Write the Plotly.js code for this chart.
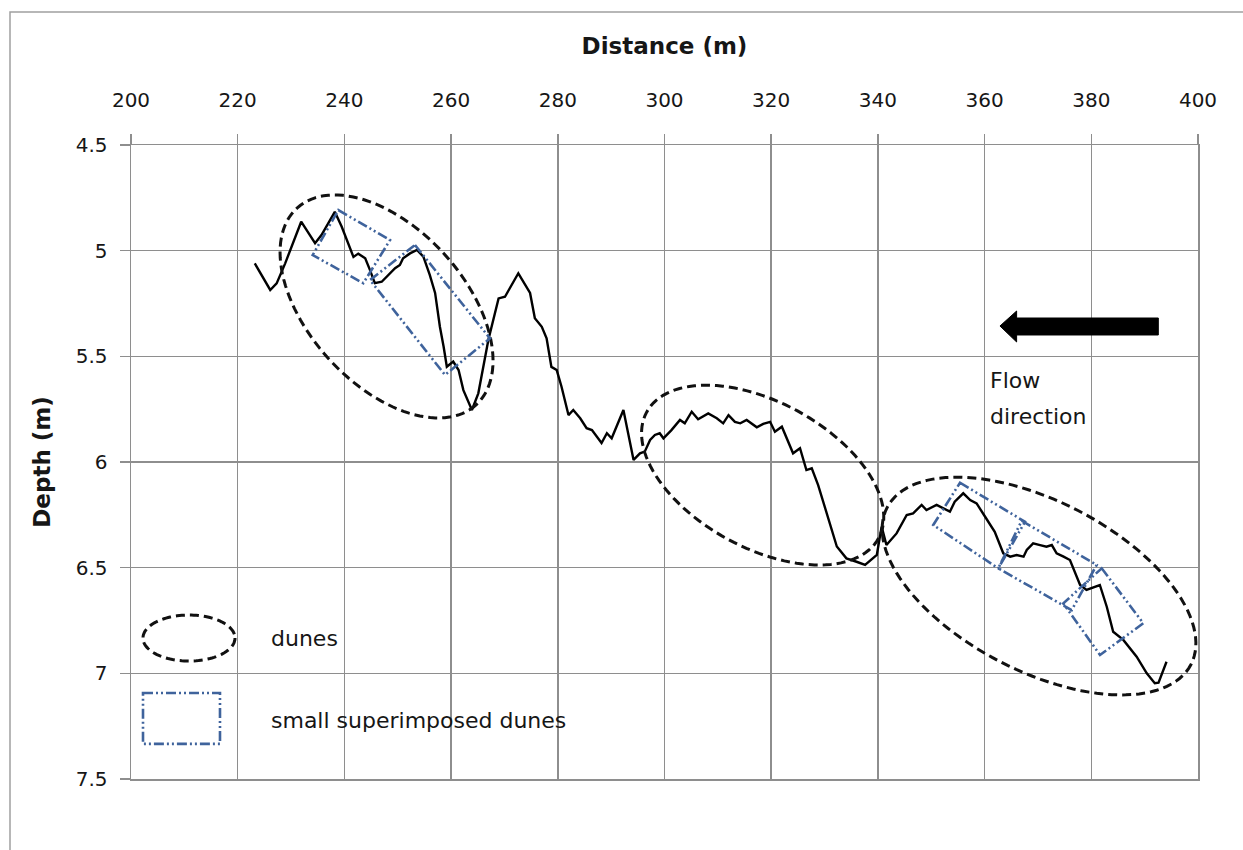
<!DOCTYPE html>
<html>
<head>
<meta charset="utf-8">
<script src="https://cdn.plot.ly/plotly-3.0.1.min.js"></script>
<style>
  html, body { margin: 0; padding: 0; background: #ffffff; }
  #chart { width: 1243px; height: 850px; }
</style>
</head>
<body>
<div id="chart"></div>
<script>
// Bed profile along the survey line
const distance = [
  223.2, 226.1, 227.3, 228.9, 231.9, 234.5, 235.7, 238.2, 239.5, 240.4,
  241.7, 242.6, 243.9, 244.8, 245.7, 247.0, 247.9, 249.5, 250.4, 251.0,
  252.3, 253.6, 254.8, 256.0, 257.0, 257.9, 258.6, 259.2, 260.4, 261.4,
  262.3, 263.9, 265.1, 267.0, 268.9, 270.1, 272.6, 274.8, 275.7, 277.0,
  277.9, 278.8, 279.8, 280.7, 282.0, 282.9, 284.2, 285.4, 286.4, 288.2,
  289.2, 290.1, 292.3, 294.2, 295.4, 296.3, 297.3, 298.2, 299.1, 299.8,
  301.3, 302.9, 303.8, 305.1, 306.3, 308.2, 309.8, 311.0, 312.0, 313.2,
  314.2, 315.4, 317.3, 318.5, 319.8, 320.7, 322.0, 322.9, 324.1, 325.4,
  326.6, 327.6, 328.8, 332.3, 334.1, 336.0, 337.6, 339.8, 340.7, 341.6,
  343.5, 345.4, 346.6, 348.2, 349.1, 351.0, 353.5, 354.4, 356.0, 357.3,
  358.5, 360.1, 361.9, 363.5, 364.8, 366.0, 367.3, 367.9, 369.1, 370.4,
  371.6, 372.6, 373.5, 374.8, 376.0, 377.9, 379.1, 381.6, 382.9, 384.1,
  386.0, 388.5, 390.4, 391.9, 392.6, 394.1
];
const depth = [
  5.060, 5.186, 5.155, 5.060, 4.863, 4.965, 4.926, 4.816, 4.887, 4.942,
  5.030, 5.014, 5.036, 5.092, 5.154, 5.147, 5.123, 5.083, 5.068, 5.036,
  5.013, 4.997, 5.028, 5.115, 5.200, 5.360, 5.455, 5.549, 5.525, 5.565,
  5.660, 5.754, 5.675, 5.420, 5.226, 5.218, 5.107, 5.200, 5.320, 5.360,
  5.415, 5.550, 5.565, 5.644, 5.778, 5.754, 5.793, 5.840, 5.849, 5.910,
  5.864, 5.888, 5.754, 5.990, 5.959, 5.951, 5.896, 5.872, 5.864, 5.888,
  5.849, 5.801, 5.817, 5.762, 5.798, 5.770, 5.793, 5.817, 5.778, 5.810,
  5.817, 5.801, 5.836, 5.820, 5.810, 5.857, 5.833, 5.888, 5.959, 5.935,
  6.038, 6.030, 6.109, 6.400, 6.456, 6.472, 6.487, 6.440, 6.306, 6.393,
  6.338, 6.251, 6.243, 6.203, 6.227, 6.203, 6.235, 6.188, 6.148, 6.180,
  6.196, 6.259, 6.330, 6.432, 6.448, 6.440, 6.448, 6.416, 6.385, 6.393,
  6.401, 6.393, 6.432, 6.448, 6.464, 6.582, 6.605, 6.582, 6.685, 6.803,
  6.842, 6.921, 7.000, 7.047, 7.044, 6.945
];

// Axis setup
const xRange = [200, 400];
const yRange = [7.5, 4.5];
const xTickStep = 20;
const yTickStep = 0.5;

// Dune outlines: centre (data units), semi-axes (px), tilt (deg, clockwise on screen)
const duneX = [247.9, 318.4, 370.2];
const duneY = [5.264, 6.062, 6.587];
const duneMajor = [133, 132, 171];
const duneMinor = [78, 73, 85];
const duneTilt = [47.7, 28.5, 27.3];

// Superimposed dune boxes: four corners each (distance, depth)
const boxX = [
  [238.86, 248.55, 243.54, 234.06],
  [253.23, 267.29, 258.86, 244.80],
  [355.39, 367.57, 362.57, 350.38],
  [366.95, 381.01, 376.32, 362.57],
  [381.95, 389.75, 381.63, 374.75]
];
const boxY = [
  [4.808, 4.950, 5.154, 5.021],
  [4.973, 5.415, 5.588, 5.139],
  [6.098, 6.283, 6.503, 6.298],
  [6.278, 6.487, 6.701, 6.503],
  [6.503, 6.763, 6.913, 6.669]
];

// Key symbols and labels
const keyLabels = ['dunes', 'small superimposed dunes'];
const flowLabel = ['Flow', 'direction'];

const W = 1243, H = 850;
const margin = { l: 131, r: 45, t: 145, b: 71 };
const plotW = W - margin.l - margin.r;
const plotH = H - margin.t - margin.b;
const pxPerX = plotW / (xRange[1] - xRange[0]);
const pxPerY = plotH / (yRange[0] - yRange[1]);

const gridCol = '#8e8e8e';
const blue = '#3f639c';
const textCol = '#161616';
const font = 'DejaVu Sans, Verdana, sans-serif';

function ellipsePath(cx, cy, a, b, deg) {
  const th = deg * Math.PI / 180;
  const pts = [];
  for (let i = 0; i <= 120; i++) {
    const t = 2 * Math.PI * i / 120;
    const ex = a * Math.cos(t), ey = b * Math.sin(t);
    const px = ex * Math.cos(th) - ey * Math.sin(th);
    const py = ex * Math.sin(th) + ey * Math.cos(th);
    pts.push((cx + px / pxPerX).toFixed(4) + ',' + (cy + py / pxPerY).toFixed(4));
  }
  return 'M ' + pts.join(' L ') + ' Z';
}

function polyPath(xsArr, ysArr) {
  return 'M ' + xsArr.map((x, i) => x + ',' + ysArr[i]).join(' L ') + ' Z';
}

const duneLine = { color: '#111111', width: 3, dash: '9px,5px' };
const boxLine = { color: blue, width: 2.6, dash: '10px,3px,2px,3px,2px,3px' };

const shapes = [];

// outer frame of the figure
shapes.push({
  type: 'rect', xref: 'paper', yref: 'paper',
  x0: (10 - margin.l) / plotW, x1: 1.1,
  y0: -0.3, y1: (H - margin.b - 12) / plotH,
  line: { color: '#a0a0a0', width: 1.5 }, fillcolor: 'rgba(0,0,0,0)', layer: 'below'
});

duneX.forEach((cx, i) => {
  shapes.push({
    type: 'path', xref: 'x', yref: 'y',
    path: ellipsePath(cx, duneY[i], duneMajor[i], duneMinor[i], duneTilt[i]),
    line: duneLine
  });
});

boxX.forEach((bx, i) => {
  shapes.push({
    type: 'path', xref: 'x', yref: 'y',
    path: polyPath(bx, boxY[i]),
    line: boxLine
  });
});

// key: ellipse and box
shapes.push({
  type: 'path', xref: 'x', yref: 'y',
  path: ellipsePath(210.87, 6.833, 46, 23, 0),
  line: duneLine
});
shapes.push({
  type: 'rect', xref: 'x', yref: 'y',
  x0: 202.25, x1: 216.68, y0: 7.093, y1: 7.334,
  line: boxLine
});

// flow direction arrow (points upstream-left)
const arrowX = [362.88, 366.0, 366.0, 392.56, 392.56, 366.0, 366.0];
const arrowY = [5.3565, 5.2855, 5.3186, 5.3186, 5.399, 5.399, 5.432];
shapes.push({
  type: 'path', xref: 'x', yref: 'y',
  path: polyPath(arrowX, arrowY),
  fillcolor: '#000000', line: { color: '#000000', width: 1 }
});

const annotations = [
  { x: 225.87, y: 6.833, text: keyLabels[0] },
  { x: 225.87, y: 7.221, text: keyLabels[1] },
  { x: 360.64, y: 5.612, text: flowLabel[0] },
  { x: 360.64, y: 5.787, text: flowLabel[1] }
].map(a => Object.assign({
  xref: 'x', yref: 'y', xanchor: 'left', yanchor: 'middle', showarrow: false,
  font: { family: font, size: 22, color: textCol }
}, a));

const trace = {
  x: distance, y: depth, type: 'scatter', mode: 'lines',
  line: { color: '#000000', width: 2.4 }, hoverinfo: 'skip', showlegend: false
};

const axisCommon = {
  showgrid: true, gridcolor: gridCol, gridwidth: 1.5,
  showline: true, linecolor: gridCol, linewidth: 1.5, mirror: true,
  ticks: 'outside', ticklen: 10, tickcolor: gridCol, tickwidth: 1.5,
  zeroline: false, fixedrange: true,
  tickfont: { family: font, size: 20, color: textCol }
};

const layout = {
  width: W, height: H, margin: margin,
  paper_bgcolor: '#ffffff', plot_bgcolor: '#ffffff',
  showlegend: false,
  xaxis: Object.assign({}, axisCommon, {
    range: xRange, side: 'top', tick0: 200, dtick: xTickStep,
    ticklabelstandoff: 19,
    title: { text: 'Distance (m)', standoff: 26,
             font: { family: font, size: 23, color: textCol, weight: 'bold' } }
  }),
  yaxis: Object.assign({}, axisCommon, {
    range: yRange, tick0: 4.5, dtick: yTickStep,
    ticklabelstandoff: 8,
    title: { text: 'Depth (m)', standoff: 18,
             font: { family: font, size: 23, color: textCol, weight: 'bold' } }
  }),
  shapes: shapes,
  annotations: annotations
};

Plotly.newPlot('chart', [trace], layout, { displayModeBar: false, staticPlot: true });
</script>
</body>
</html>
